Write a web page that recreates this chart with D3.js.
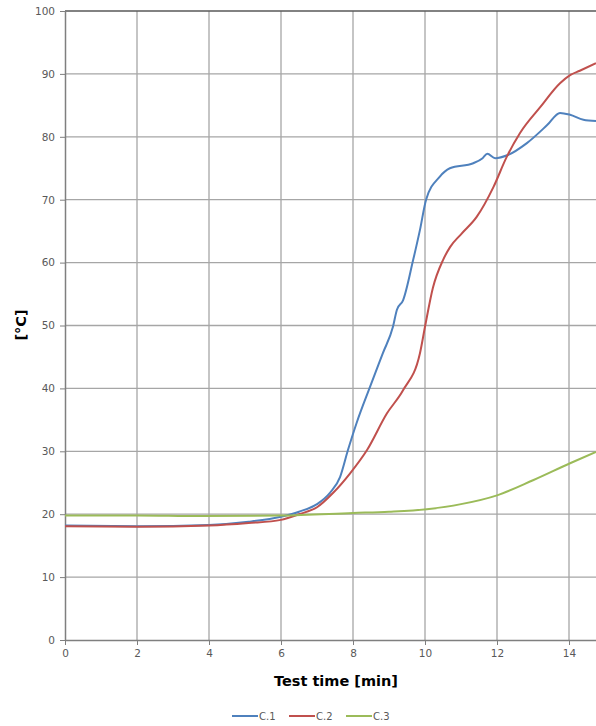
<!DOCTYPE html>
<html>
<head>
<meta charset="utf-8">
<script src="https://cdn.jsdelivr.net/npm/d3@7"></script>
<style>
  body { margin: 0; background: #fff; }
  svg text { font-family: "DejaVu Sans", Verdana, sans-serif; }
</style>
</head>
<body>
<svg id="chart" width="596" height="726"></svg>
<script>
// series (time in min, temperature in °C)
const timeC1 = [0, 2, 4, 5.1, 6.0, 6.5, 7.0, 7.36, 7.64, 7.86, 8.1, 8.47, 8.83, 9.11, 9.22, 9.39, 9.67, 9.86, 10.03, 10.4, 10.69, 11.34, 11.6, 11.73, 11.95, 12.3, 12.83, 13.4, 13.75, 14.03, 14.4, 14.75];
const tempC1 = [18.2, 18.1, 18.3, 18.8, 19.6, 20.4, 21.6, 23.4, 25.9, 30.2, 34.5, 40.2, 45.6, 49.8, 52.5, 54.0, 60.4, 65.2, 70.0, 73.6, 75.0, 75.8, 76.6, 77.3, 76.6, 77.1, 79.0, 81.9, 83.8, 83.5, 82.7, 82.5];

const timeC2 = [0, 2, 4, 5.1, 6.0, 6.5, 7.0, 7.45, 7.92, 8.39, 8.94, 9.39, 9.86, 10.0, 10.22, 10.5, 10.7, 11.0, 11.44, 11.9, 12.27, 12.64, 13.2, 13.75, 14.03, 14.3, 14.75];
const tempC2 = [18.1, 18.0, 18.2, 18.6, 19.1, 20.0, 21.1, 23.4, 26.5, 30.2, 36.0, 39.7, 45.6, 49.8, 56.0, 60.4, 62.5, 64.5, 67.3, 72.0, 76.8, 80.6, 84.7, 88.5, 89.8, 90.5, 91.7];

const timeC3 = [0, 2, 3.75, 6, 8.0, 9, 10.05, 11, 12.0, 13.0, 14.03, 14.75];
const tempC3 = [19.8, 19.8, 19.7, 19.8, 20.2, 20.4, 20.8, 21.6, 23.0, 25.4, 28.1, 29.9];

const seriesNames = ["C.1", "C.2", "C.3"];
const seriesColors = ["#4f81bd", "#c0504d", "#9bbb59"];
const xTicks = [0, 2, 4, 6, 8, 10, 12, 14];
const yTicks = [0, 10, 20, 30, 40, 50, 60, 70, 80, 90, 100];

const series = [
  timeC1.map((t, i) => ({ t, v: tempC1[i] })),
  timeC2.map((t, i) => ({ t, v: tempC2[i] })),
  timeC3.map((t, i) => ({ t, v: tempC3[i] }))
];

const svg = d3.select("#chart"),
      margin = { top: 11, right: 0, bottom: 86, left: 65 },
      width = +svg.attr("width") - margin.left - margin.right,
      height = +svg.attr("height") - margin.top - margin.bottom;

const g = svg.append("g")
  .attr("transform", `translate(${margin.left},${margin.top})`);

const x = d3.scaleLinear().domain([0, 14.75]).range([0, width]);
const y = d3.scaleLinear().domain([0, 100]).range([height, 0]);

// grid
g.append("g")
  .selectAll("line")
  .data(xTicks.slice(1))
  .enter().append("line")
  .attr("x1", d => x(d)).attr("x2", d => x(d))
  .attr("y1", 0).attr("y2", height)
  .attr("stroke", "#a6a6a6")
  .attr("stroke-width", 1.3);

g.append("g")
  .selectAll("line")
  .data(yTicks.slice(1, -1))
  .enter().append("line")
  .attr("x1", 0).attr("x2", width)
  .attr("y1", d => y(d)).attr("y2", d => y(d))
  .attr("stroke", "#a6a6a6")
  .attr("stroke-width", 1.3);

// top border
g.append("line")
  .attr("x1", 0).attr("x2", width)
  .attr("y1", 0).attr("y2", 0)
  .attr("stroke", "#595959")
  .attr("stroke-width", 1.5);

// axes
const xAxis = g.append("g")
  .attr("transform", `translate(0,${height})`)
  .call(d3.axisBottom(x).tickValues(xTicks).tickSize(5).tickSizeOuter(0));
const yAxis = g.append("g")
  .call(d3.axisLeft(y).tickValues(yTicks).tickSize(5).tickSizeOuter(0));

[xAxis, yAxis].forEach(a => {
  a.select(".domain").attr("stroke", "#7f7f7f").attr("stroke-width", 1.5);
  a.selectAll(".tick line").attr("stroke", "#7f7f7f");
  a.selectAll("text")
    .attr("fill", "#595959")
    .style("font-size", "10.5px")
    .style("font-family", "'DejaVu Sans', Verdana, sans-serif");
});
xAxis.selectAll("text").attr("y", 10);
yAxis.selectAll("text").attr("x", -10);

// lines
const line = d3.line()
  .x(d => x(d.t))
  .y(d => y(d.v))
  .curve(d3.curveMonotoneX);

g.append("g")
  .selectAll("path")
  .data(series)
  .enter().append("path")
  .attr("d", line)
  .attr("fill", "none")
  .attr("stroke", (d, i) => seriesColors[i])
  .attr("stroke-width", 2);

// axis labels
svg.append("text")
  .attr("x", 336)
  .attr("y", 686)
  .attr("text-anchor", "middle")
  .attr("font-size", "14.5px")
  .attr("font-weight", "bold")
  .text("Test time [min]");

svg.append("text")
  .attr("transform", "rotate(-90)")
  .attr("x", -325)
  .attr("y", 26)
  .attr("text-anchor", "middle")
  .attr("font-size", "14.5px")
  .attr("font-weight", "bold")
  .text("[°C]");

// legend
const legend = svg.append("g")
  .selectAll("g")
  .data(seriesNames)
  .enter().append("g")
  .attr("transform", (d, i) => `translate(${232 + i * 57},716)`);

legend.append("line")
  .attr("x1", 0).attr("x2", 26)
  .attr("y1", 0).attr("y2", 0)
  .attr("stroke", (d, i) => seriesColors[i])
  .attr("stroke-width", 2);

legend.append("text")
  .attr("x", 27)
  .attr("y", 4)
  .attr("font-size", "10px")
  .attr("fill", "#595959")
  .text(d => d);
</script>
</body>
</html>
